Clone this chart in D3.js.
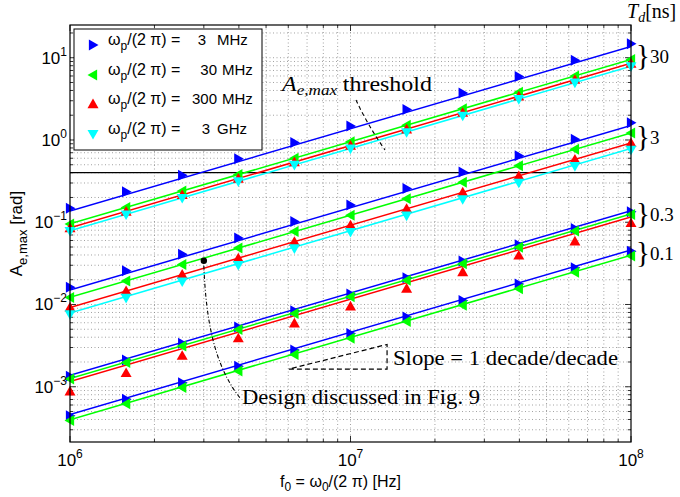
<!DOCTYPE html>
<html>
<head>
<meta charset="utf-8">
<script src="https://cdn.jsdelivr.net/npm/d3@7"></script>
<style>
body { margin: 0; background: #fff; }
text { fill: #000; }
</style>
</head>
<body>
<script>
const w = 680;
const h = 497;

// sample frequencies f0 [Hz]
const freqs = [1e6, 1.585e6, 2.512e6, 3.981e6, 6.31e6, 1e7, 1.585e7, 2.512e7, 3.981e7, 6.31e7, 1e8];

const legendLabels = ["3", "30", "300", "3"];
const legendUnits = ["MHz", "MHz", "MHz", "GHz"];
const colors = ["#0000ff", "#00ff00", "#ff0000", "#00ffff"];
const kinds = ["right", "left", "up", "down"];

const tdLabels = ["30", "3", "0.3", "0.1"];

// line values at f0 = 1e6 and 1e8, per series (blue, green, red, cyan)
const line30 = [[0.137, 13.7], [0.0955, 9.55], [0.0855, 8.55], [0.079, 7.9]];
const line3 = [[0.015, 1.5], [0.0122, 1.22], [0.0092, 0.92], [0.0079, 0.79]];
const line03 = [[0.00138, 0.138], [0.00126, 0.126], [0.00116, 0.116]];
const line01 = [[0.00046, 0.046], [0.000398, 0.0398]];

// simulated points
const marks30 = [
  [0.148, 0.235, 0.372, 0.59, 0.934, 1.48, 2.35, 3.72, 5.9, 9.34, 14.8],
  [0.0955, 0.151, 0.24, 0.38, 0.6, 0.955, 1.51, 2.4, 3.8, 6.0, 9.55],
  [0.085, 0.135, 0.215, 0.34, 0.54, 0.855, 1.35, 2.15, 3.4, 5.4, 8.5],
  [0.078, 0.124, 0.197, 0.313, 0.497, 0.785, 1.24, 1.97, 3.13, 4.97, 7.85]
];
const marks3 = [
  [0.0162, 0.0257, 0.0407, 0.0645, 0.102, 0.162, 0.257, 0.407, 0.645, 1.02, 1.62],
  [0.0122, 0.0193, 0.0306, 0.0486, 0.077, 0.122, 0.193, 0.306, 0.486, 0.77, 1.22],
  [0.0092, 0.0146, 0.0231, 0.0366, 0.058, 0.092, 0.146, 0.231, 0.366, 0.58, 0.92],
  [0.0076, 0.012, 0.019, 0.0302, 0.048, 0.076, 0.12, 0.19, 0.302, 0.48, 0.76]
];
const marks03 = [
  [0.00134, 0.00212, 0.00337, 0.00534, 0.0084, 0.0134, 0.0212, 0.0337, 0.0534, 0.084, 0.134],
  [0.00124, 0.00197, 0.00312, 0.00495, 0.0078, 0.0124, 0.0197, 0.0312, 0.0495, 0.078, 0.124],
  [0.00088, 0.00147, 0.00239, 0.0039, 0.0059, 0.0095, 0.0156, 0.0248, 0.0395, 0.0586, 0.098]
];
const marks01 = [
  [0.000445, 0.000705, 0.00112, 0.00177, 0.0028, 0.00445, 0.00705, 0.0112, 0.0177, 0.028, 0.0445],
  [0.00039, 0.00062, 0.00098, 0.00155, 0.00246, 0.0039, 0.0062, 0.0098, 0.0155, 0.0246, 0.039]
];

const threshold = 0.4;
const designPoint = [3.0e6, 0.034];
const slopeTri = [[6.03e6, 1.64e-3], [1.35e7, 1.64e-3], [1.35e7, 3.27e-3]];

const groups = [
  {lines: line30, marks: marks30},
  {lines: line3, marks: marks3},
  {lines: line03, marks: marks03},
  {lines: line01, marks: marks01}
];

const pL = 70, pR = 631, pT = 25, pB = 442;

const x = d3.scaleLog().domain([1e6, 1e8]).range([pL, pR]);
const y = d3.scaleLog().domain([2.13e-4, 25]).range([pB, pT]);

const svg = d3.select("body")
  .append("svg")
  .attr("width", w)
  .attr("height", h)
  .style("font-family", "'Liberation Sans', Arial, sans-serif");

svg.append("defs").append("clipPath").attr("id", "clip")
  .append("rect")
  .attr("x", pL).attr("y", pT)
  .attr("width", pR - pL).attr("height", pB - pT);

// tick values incl. minor ones
const logTicks = (lo, hi) => {
  let out = [];
  for (let k = Math.floor(Math.log10(lo)); k <= Math.ceil(Math.log10(hi)); k++) {
    for (let m = 1; m <= 9; m++) {
      const v = m * Math.pow(10, k);
      if (v >= lo * 0.999 && v <= hi * 1.001) out.push({v: v, major: m == 1});
    }
  }
  return out;
};
const xTicks = logTicks(1e6, 1e8);
const yTicks = logTicks(2.13e-4, 25);

// dotted grid
const grid = svg.append("g")
  .attr("stroke", "#8a8a8a")
  .attr("stroke-width", 0.8)
  .attr("stroke-dasharray", "1,2.5");

grid.selectAll(".gx")
  .data(xTicks.filter(t => t.v > 1e6 && t.v < 1e8))
  .enter().append("line")
  .attr("x1", d => x(d.v)).attr("x2", d => x(d.v))
  .attr("y1", pT).attr("y2", pB);

grid.selectAll(".gy")
  .data(yTicks)
  .enter().append("line")
  .attr("y1", d => y(d.v)).attr("y2", d => y(d.v))
  .attr("x1", pL).attr("x2", pR);

// ticks on all four sides, pointing inward
const tk = svg.append("g").attr("stroke", "#000").attr("stroke-width", 0.8);
xTicks.forEach(t => {
  const len = t.major ? 6 : 3;
  tk.append("line").attr("x1", x(t.v)).attr("x2", x(t.v)).attr("y1", pB).attr("y2", pB - len);
  tk.append("line").attr("x1", x(t.v)).attr("x2", x(t.v)).attr("y1", pT).attr("y2", pT + len);
});
yTicks.forEach(t => {
  const len = t.major ? 6 : 3;
  tk.append("line").attr("y1", y(t.v)).attr("y2", y(t.v)).attr("x1", pL).attr("x2", pL + len);
  tk.append("line").attr("y1", y(t.v)).attr("y2", y(t.v)).attr("x1", pR).attr("x2", pR - len);
});

// threshold line
svg.append("line")
  .attr("x1", pL).attr("x2", pR)
  .attr("y1", y(threshold)).attr("y2", y(threshold))
  .attr("stroke", "#000").attr("stroke-width", 1.2);

const triPath = (kind, s) => {
  const a = s, b = s * 0.75;
  if (kind == "up") return `M0,${-a}L${a},${b}L${-a},${b}Z`;
  if (kind == "down") return `M0,${a}L${a},${-b}L${-a},${-b}Z`;
  if (kind == "right") return `M${a},0L${-b},${-a}L${-b},${a}Z`;
  return `M${-a},0L${b},${-a}L${b},${a}Z`;
};

const plot = svg.append("g").attr("clip-path", "url(#clip)");

groups.forEach(g => {
  g.lines.forEach((ends, i) => {
    plot.append("line")
      .attr("x1", x(1e6)).attr("y1", y(ends[0]))
      .attr("x2", x(1e8)).attr("y2", y(ends[1]))
      .attr("stroke", colors[i])
      .attr("stroke-width", 1.5);
  });
  g.marks.forEach((vals, i) => {
    svg.append("g").selectAll("path")
      .data(vals)
      .enter().append("path")
      .attr("d", triPath(kinds[i], 5.5))
      .attr("transform", (d, j) => `translate(${x(freqs[j])},${y(d)})`)
      .attr("fill", colors[i]);
  });
});

// axes box
svg.append("rect")
  .attr("x", pL).attr("y", pT)
  .attr("width", pR - pL).attr("height", pB - pT)
  .attr("fill", "none").attr("stroke", "#000").attr("stroke-width", 1.2);

// x tick labels
const xl = svg.append("g").attr("font-size", 17);
xTicks.filter(t => t.major).forEach(t => {
  const e = Math.round(Math.log10(t.v));
  const tx = xl.append("text").attr("x", x(t.v)).attr("y", 466).attr("text-anchor", "middle");
  tx.append("tspan").text("10");
  tx.append("tspan").attr("dy", -8).attr("font-size", 12).text(e);
});

// y tick labels
const yl = svg.append("g").attr("font-size", 17);
yTicks.filter(t => t.major).forEach(t => {
  const e = Math.round(Math.log10(t.v));
  const tx = yl.append("text").attr("x", 67).attr("y", y(t.v) + 6).attr("text-anchor", "end");
  tx.append("tspan").text("10");
  tx.append("tspan").attr("dy", -8).attr("font-size", 12).text(e < 0 ? "\u2212" + (-e) : e);
});

// axis titles
const xt = svg.append("text")
  .attr("x", (pL + pR) / 2 - 10).attr("y", 487)
  .attr("text-anchor", "middle").attr("font-size", 16);
xt.append("tspan").text("f");
xt.append("tspan").attr("dy", 4).attr("font-size", 12).text("0");
xt.append("tspan").attr("dy", -4).text(" = \u03c9");
xt.append("tspan").attr("dy", 4).attr("font-size", 12).text("0");
xt.append("tspan").attr("dy", -4).text("/(2 \u03c0) [Hz]");

const yt = svg.append("text")
  .attr("transform", `translate(22,${(pT + pB) / 2}) rotate(-90)`)
  .attr("text-anchor", "middle").attr("font-size", 17);
yt.append("tspan").text("A");
yt.append("tspan").attr("dy", 5).attr("font-size", 13).text("e,max");
yt.append("tspan").attr("dy", -5).text(" [rad]");

// annotations (serif, LaTeX look)
const serif = "'Liberation Serif', 'Times New Roman', serif";

const th = svg.append("text")
  .attr("x", 282).attr("y", 91)
  .attr("font-family", serif).attr("font-size", 21)
  .attr("textLength", 150).attr("lengthAdjust", "spacingAndGlyphs");
th.append("tspan").attr("font-style", "italic").text("A");
th.append("tspan").attr("font-style", "italic").attr("dy", 4).attr("font-size", 15).text("e,max");
th.append("tspan").attr("dy", -4).attr("dx", 5).text("threshold");

svg.append("path")
  .attr("d", "M356,100 Q367,124 385,150")
  .attr("fill", "none").attr("stroke", "#000")
  .attr("stroke-width", 1.1).attr("stroke-dasharray", "4,3");

svg.append("circle")
  .attr("cx", x(designPoint[0])).attr("cy", y(designPoint[1]))
  .attr("r", 3.2).attr("fill", "#000");

svg.append("path")
  .attr("d", `M${x(designPoint[0])},${y(designPoint[1]) + 5} C206,320 214,365 240,398`)
  .attr("fill", "none").attr("stroke", "#000")
  .attr("stroke-width", 1.1).attr("stroke-dasharray", "4,2,1,2");

svg.append("text")
  .attr("x", 242).attr("y", 404)
  .attr("font-family", serif).attr("font-size", 21)
  .attr("textLength", 238).attr("lengthAdjust", "spacingAndGlyphs")
  .text("Design discussed in Fig. 9");

svg.append("path")
  .attr("d", d3.line().x(d => x(d[0])).y(d => y(d[1]))(slopeTri) + "Z")
  .attr("fill", "none").attr("stroke", "#000")
  .attr("stroke-width", 1.2).attr("stroke-dasharray", "5,3");

svg.append("text")
  .attr("x", 393).attr("y", 365)
  .attr("font-family", serif).attr("font-size", 20)
  .attr("textLength", 225).attr("lengthAdjust", "spacingAndGlyphs")
  .text("Slope = 1 decade/decade");

// T_d labels on the right
const td = svg.append("text")
  .attr("x", 627).attr("y", 18)
  .attr("font-family", serif).attr("font-size", 20);
td.append("tspan").attr("font-style", "italic").text("T");
td.append("tspan").attr("font-style", "italic").attr("dy", 4).attr("font-size", 14).text("d");
td.append("tspan").attr("dy", -4).text("[ns]");

tdLabels.forEach((lab, i) => {
  const ends = groups[i].lines;
  const ym = (y(ends[0][1]) + y(ends[ends.length - 1][1])) / 2;
  const t = svg.append("text")
    .attr("x", 636).attr("y", ym + 7)
    .attr("font-family", serif);
  t.append("tspan").attr("font-size", 29).attr("dy", 2).text("}");
  t.append("tspan").attr("font-size", 19).attr("dy", -2).text(lab);
});

// legend
const lg = svg.append("g");
lg.append("rect")
  .attr("x", 74).attr("y", 29)
  .attr("width", 188).attr("height", 121)
  .attr("fill", "#fff").attr("stroke", "#000").attr("stroke-width", 1);

const rowY = [45, 75, 104, 134];
const numEnd = [206, 217, 217, 210];
const unitX = [217, 222, 222, 217];
legendLabels.forEach((lab, i) => {
  lg.append("path")
    .attr("d", triPath(kinds[i], 5.5))
    .attr("transform", `translate(93,${rowY[i]})`)
    .attr("fill", colors[i]);
  const t = lg.append("text").attr("x", 108).attr("y", rowY[i]).attr("font-size", 16);
  t.append("tspan").text("\u03c9");
  t.append("tspan").attr("dy", 5).attr("font-size", 12).text("p");
  t.append("tspan").attr("dy", -5).text("/(2 \u03c0) =");
  lg.append("text").attr("x", numEnd[i]).attr("y", rowY[i]).attr("font-size", 15)
    .attr("text-anchor", "end").text(lab);
  lg.append("text").attr("x", unitX[i]).attr("y", rowY[i]).attr("font-size", 15).text(legendUnits[i]);
});
</script>
</body>
</html>
